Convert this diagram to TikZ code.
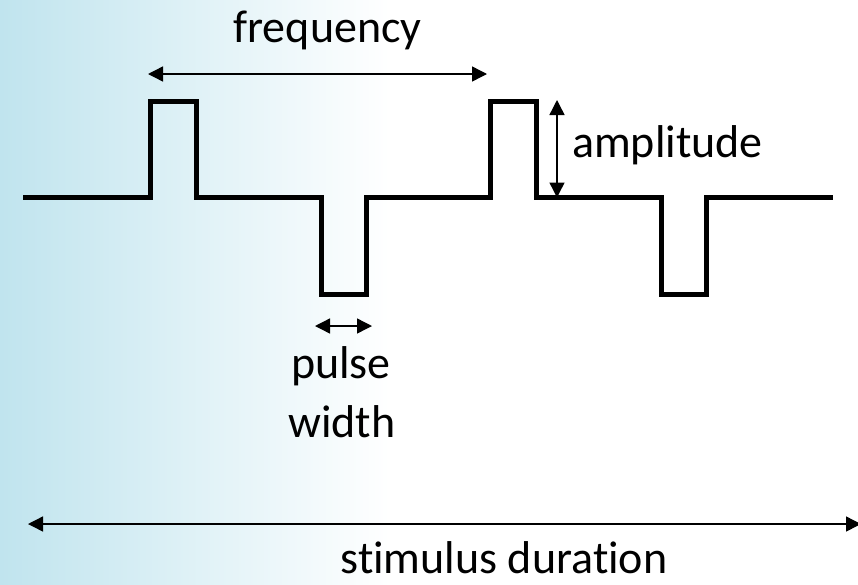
\documentclass[tikz,border=0pt]{standalone}
\usepackage{fontspec}
\setmainfont{Carlito}[Ligatures=NoCommon]
\usetikzlibrary{arrows.meta}
\definecolor{bgblue}{RGB}{192,228,238}
\begin{document}
\begin{tikzpicture}[x=1pt,y=-1pt,
  wave/.style={line width=5pt, line join=miter},
  dim/.style={line width=1.4pt, {Triangle[length=15pt,width=15pt]}-{Triangle[length=15pt,width=15pt]}},
  lbl/.style={font=\fontsize{46}{60}\selectfont, inner sep=0pt, anchor=base}]
\useasboundingbox (0,0) rectangle (858,584);
\fill[white] (0,0) rectangle (858,584);
\shade[left color=bgblue, right color=white] (0,0) rectangle (390,584);
% waveform
\draw[wave] (23,197.5) -- (150.5,197.5) -- (150.5,101.5) -- (196,101.5) -- (196,197.5)
  -- (321,197.5) -- (321,294.5) -- (366,294.5) -- (366,197.5)
  -- (490.5,197.5) -- (490.5,101.5) -- (536,101.5) -- (536,197.5)
  -- (661,197.5) -- (661,294.5) -- (706,294.5) -- (706,197.5) -- (833,197.5);
% dimension end points
\coordinate (fL) at (148,74);   \coordinate (fR) at (487,74);
\coordinate (aT) at (557,100);  \coordinate (aB) at (557,197.5);
\coordinate (pL) at (315,326);  \coordinate (pR) at (372,326);
\coordinate (sL) at (28,524);   \coordinate (sR) at (861,524);
\draw[dim] (fL) -- (fR);
\draw[dim] (aT) -- (aB);
\draw[dim] (pL) -- (pR);
\draw[dim] (sL) -- (sR);
% labels
\node[lbl] (freq) at (327.5,42) {frequency};
\node[lbl, anchor=base west] (amp) at (572,157) {amplitude};
\node[lbl] (pulse) at (341,378) {pulse};
\node[lbl] (width) at (342,437) {width};
\node[lbl] (stim) at (504,573) {stimulus duration};
\end{tikzpicture}
\end{document}
